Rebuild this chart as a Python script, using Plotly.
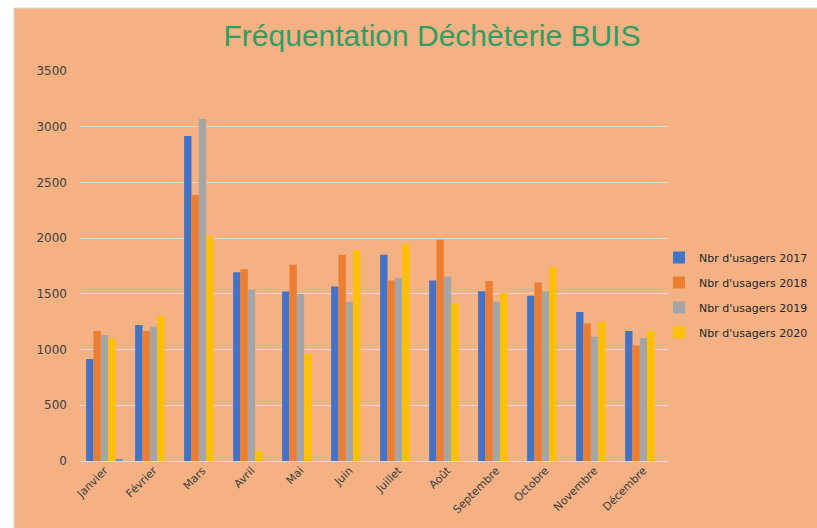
import plotly.graph_objects as go

# Monthly visitors at the BUIS recycling centre
mois = ["Janvier", "Février", "Mars", "Avril", "Mai", "Juin", "Juillet",
        "Août", "Septembre", "Octobre", "Novembre", "Décembre"]

usagers_2017 = [915, 1220, 2917, 1693, 1522, 1565, 1850, 1619, 1523, 1484, 1337, 1166]
usagers_2018 = [1167, 1167, 2387, 1720, 1762, 1852, 1619, 1985, 1616, 1601, 1235, 1037]
usagers_2019 = [1131, 1205, 3069, 1538, 1499, 1430, 1643, 1655, 1430, 1523, 1115, 1103]
usagers_2020 = [1101, 1301, 2019, 90, 959, 1891, 1943, 1418, 1508, 1739, 1250, 1166]
# fifth series only has a January value (not shown in the legend)
usagers_2021 = [14, None, None, None, None, None, None, None, None, None, None, None]

y_ticks = [0, 500, 1000, 1500, 2000, 2500, 3000, 3500]

FOND = "#F4B183"
GRILLE = "#D9D9D9"

series = [
    ("Nbr d'usagers 2017", usagers_2017, "#4472C4", True),
    ("Nbr d'usagers 2018", usagers_2018, "#ED7D31", True),
    ("Nbr d'usagers 2019", usagers_2019, "#A5A5A5", True),
    ("Nbr d'usagers 2020", usagers_2020, "#FFC000", True),
    ("Nbr d'usagers 2021", usagers_2021, "#5B9BD5", False),
]

fig = go.Figure()
for i, (nom, vals, couleur, legende) in enumerate(series):
    fig.add_trace(go.Bar(
        x=mois, y=vals, name=nom,
        marker=dict(color=couleur, line_width=0),
        showlegend=legende,
        legendgroup=f"g{i}",
    ))

# orange chart area with a thin border, white strip on top / left
fig.add_shape(
    type="rect", xref="paper", yref="paper",
    x0=-66 / 588, x1=1.4, y0=-0.4, y1=453 / 390,
    fillcolor=FOND, line=dict(color=GRILLE, width=1), layer="below",
)

fig.update_layout(
    width=817, height=528,
    paper_bgcolor="white",
    plot_bgcolor="rgba(0,0,0,0)",
    # fixed margins: the legend must not squeeze the plot area
    margin=dict(l=80, r=149, t=71, b=67, autoexpand=False),
    barmode="group", bargap=0.25, bargroupgap=0,
    font=dict(family="DejaVu Sans", size=11, color="#404040"),
    title=dict(
        text="Fréquentation Déchèterie BUIS",
        font=dict(family="Liberation Sans", size=30, color="#2F9E63"),
        x=(432 - 80) / 588, xref="paper", xanchor="center",
        y=1 - 35 / 528, yref="container", yanchor="middle",
    ),
    legend=dict(
        xref="container", yref="container",
        x=659 / 817, xanchor="left", y=1 - 243 / 528, yanchor="top",
        font=dict(size=11, color="#262626"),
        bgcolor="rgba(0,0,0,0)",
        traceorder="grouped", tracegroupgap=6,
        itemwidth=30,
    ),
)
fig.update_yaxes(
    range=[0, 3500], tickvals=y_ticks,
    showgrid=True, gridcolor=GRILLE, gridwidth=1,
    zeroline=True, zerolinecolor=GRILLE, zerolinewidth=1,
    showline=False, ticklabelstandoff=12,
    tickfont=dict(size=12, color="#404040"),
)
fig.update_xaxes(
    tickangle=-45, showline=False, showgrid=False,
    tickfont=dict(size=11, color="#404040"),
)

# drop the page's default 8px body margin so the figure sits at the corner
fig.write_html(
    "out.html",
    config={"displayModeBar": False},
    post_script="document.body.style.margin='0';",
)
